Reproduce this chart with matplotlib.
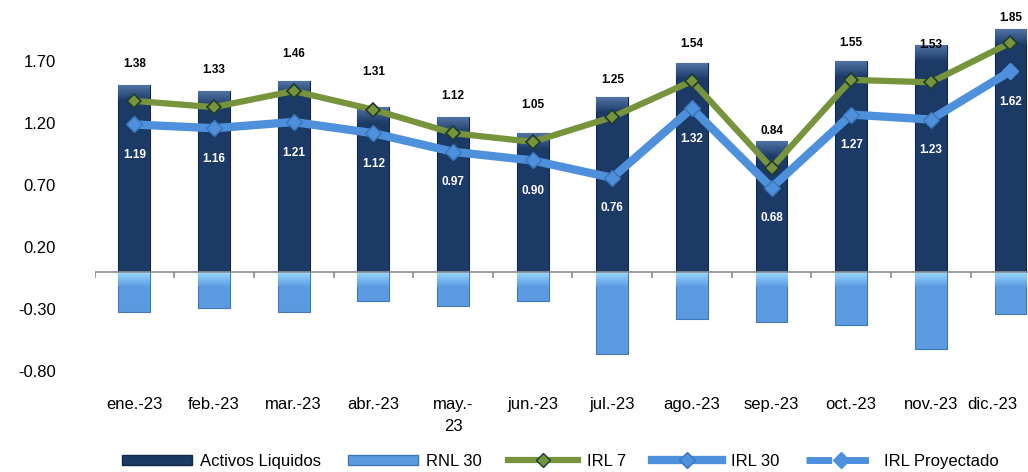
import matplotlib
matplotlib.use('Agg')
import matplotlib.pyplot as plt
import matplotlib.transforms as mtransforms
import numpy as np
from matplotlib.colors import LinearSegmentedColormap
from matplotlib.lines import Line2D
from matplotlib.patches import Patch

labels = ['ene.-23', 'feb.-23', 'mar.-23', 'abr.-23', 'may.-\n23', 'jun.-23',
          'jul.-23', 'ago.-23', 'sep.-23', 'oct.-23', 'nov.-23', 'dic.-23']
activos = [1.51, 1.46, 1.54, 1.33, 1.25, 1.12, 1.41, 1.69, 1.06, 1.70, 1.83, 1.96]
rnl30 = [-0.32, -0.29, -0.32, -0.23, -0.27, -0.23, -0.66, -0.38, -0.40, -0.43, -0.62, -0.34]
irl7 = [1.38, 1.33, 1.46, 1.31, 1.12, 1.05, 1.25, 1.54, 0.84, 1.55, 1.53, 1.85]
irl30 = [1.19, 1.16, 1.21, 1.12, 0.97, 0.90, 0.76, 1.32, 0.68, 1.27, 1.23, 1.62]
irl_proy = [np.nan] * 11 + [1.62]
yticks = [1.70, 1.20, 0.70, 0.20, -0.30, -0.80]

navy = '#1b3a66'
light = '#5b9ae0'
green = '#77933c'
blue = '#4f90dc'

plt.rcParams['font.family'] = ['Liberation Sans', 'DejaVu Sans']

x = np.arange(len(labels))
width = 0.40

fig = plt.figure(figsize=(10.28, 4.72), dpi=100)
ax = fig.add_axes([0.092, 0.2004, 0.908, 0.788])

bars1 = ax.bar(x, activos, width, color=navy, edgecolor='#10284a', linewidth=0.8, zorder=2)
bars2 = ax.bar(x, rnl30, width, color=light, edgecolor='#3f78b8', linewidth=0.8, zorder=2)

# bevel-like shading at the top edge of each bar
cm_dark = LinearSegmentedColormap.from_list('d', [navy, '#5577a8'])
cm_light = LinearSegmentedColormap.from_list('l', [light, '#9ad8ff'])
grad = np.linspace(0, 1, 50).reshape(-1, 1)
for b in bars1:
    x0, w, top = b.get_x(), b.get_width(), b.get_height()
    im = ax.imshow(grad, cmap=cm_dark, aspect='auto', origin='lower',
                   extent=(x0, x0 + w, top - 0.13, top), zorder=2.1)
    im.set_clip_path(b)
for b in bars2:
    x0, w = b.get_x(), b.get_width()
    im = ax.imshow(grad, cmap=cm_light, aspect='auto', origin='lower',
                   extent=(x0, x0 + w, -0.12, 0), zorder=2.1)
    im.set_clip_path(b)

ax.plot(x, irl30, color=blue, linewidth=6, marker='D', markersize=8,
        markerfacecolor=blue, markeredgecolor='#3a74b8', zorder=3)
ax.plot(x, irl7, color=green, linewidth=4.5, marker='D', markersize=7,
        markerfacecolor=green, markeredgecolor='#1b3a30', markeredgewidth=1.2, zorder=4)
ax.plot(x, irl_proy, color=blue, linewidth=5, linestyle='--', marker='D', markersize=8,
        markerfacecolor=blue, markeredgecolor=blue, zorder=3)

# IRL 7 labels above the line, kept inside the plot area
for i, v in enumerate(irl7):
    ax.text(i, min(v + 0.30, 2.05), '{:.2f}'.format(v), ha='center', va='center',
            fontsize=8.5, fontweight='bold', color='black', zorder=5)
for i, v in enumerate(irl30):
    ax.annotate('{:.2f}'.format(v), xy=(i, v), xytext=(0, -22),
                textcoords='offset points', ha='center', va='center',
                fontsize=8.5, fontweight='bold', color='white', zorder=5)

ax.set_xlim(-0.5, 11.22)
ax.set_ylim(-0.85, 2.15)

# zero line with boundary tick marks
ax.axhline(0, color='#8c8c8c', linewidth=1.2, zorder=2.5)
ax.vlines(np.arange(-0.5, 12, 1), -0.045, 0, color='#8c8c8c', linewidth=1.2, zorder=1)

for s in ax.spines.values():
    s.set_visible(False)

ax.set_yticks(yticks)
ax.set_yticklabels(['{:.2f}'.format(t) for t in yticks])
ax.tick_params(axis='y', length=0, pad=28, labelsize=12)
ax.set_xticks(x)
ax.set_xticklabels(labels, linespacing=1.6)
ax.tick_params(axis='x', length=0, pad=14, labelsize=12)

# last month label is pulled left so it fits, as in the source
last = ax.get_xticklabels()[-1]
last.set_transform(last.get_transform() +
                   mtransforms.ScaledTranslation(-18 / 100, 0, fig.dpi_scale_trans))

handles = [
    Patch(facecolor=navy, edgecolor='#10284a'),
    Patch(facecolor=light, edgecolor='#3f78b8'),
    Line2D([], [], color=green, linewidth=4.5, marker='D', markersize=7,
           markerfacecolor=green, markeredgecolor='#1b3a30'),
    Line2D([], [], color=blue, linewidth=6, marker='D', markersize=8,
           markerfacecolor=blue, markeredgecolor='#3a74b8'),
    Line2D([], [], color=blue, linewidth=5, linestyle='--', marker='D', markersize=8,
           markerfacecolor=blue, markeredgecolor=blue),
]
fig.legend(handles, ['Activos Liquidos', 'RNL 30', 'IRL 7', 'IRL 30', 'IRL Proyectado'],
           loc='lower center', bbox_to_anchor=(0.545, -0.025), ncol=5, frameon=False,
           fontsize=12, handlelength=4.2, handleheight=0.5, columnspacing=1.6,
           handletextpad=0.5)

fig.savefig('out.png', dpi=100)
